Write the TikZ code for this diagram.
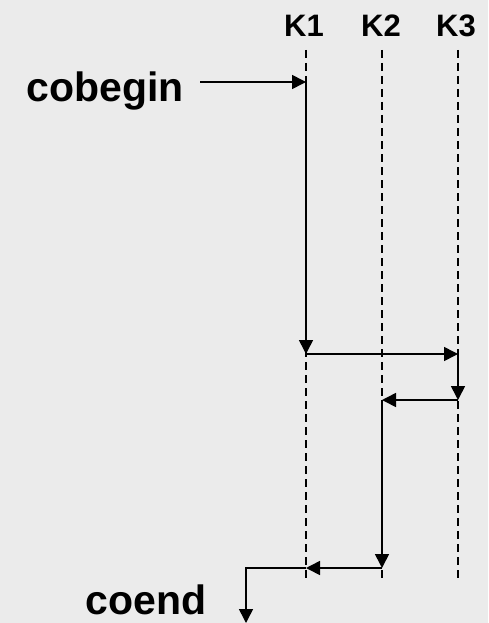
\documentclass[tikz,border=0pt]{standalone}
\usepackage{fontspec}
\setmainfont{Liberation Sans}
\usetikzlibrary{arrows.meta}
\begin{document}
\begin{tikzpicture}[x=1pt,y=-1pt,
  lifeline/.style={line width=1.2pt,dash pattern=on 8pt off 5pt},
  flow/.style={line width=1.6pt,-{Triangle[length=14pt,width=14pt]}},
  head/.style={font=\bfseries\fontsize{31}{31}\selectfont,inner sep=0pt,anchor=base},
  big/.style={font=\bfseries\fontsize{41}{41}\selectfont,inner sep=0pt,anchor=base}]
  \fill[fill={rgb,255:red,235;green,235;blue,235}] (0,0) rectangle (488,623);
  \useasboundingbox (0,0) rectangle (488,623);
  % process headers
  \node[head] (k1) at (304,37) {K1};
  \node[head] (k2) at (381,37) {K2};
  \node[head] (k3) at (456,37) {K3};
  % lifelines
  \coordinate (t1) at (306,50); \coordinate (b1) at (306,578);
  \coordinate (t2) at (382,50); \coordinate (b2) at (382,578);
  \coordinate (t3) at (458,50); \coordinate (b3) at (458,578);
  \draw[lifeline] (t1) -- (b1);
  \draw[lifeline] (t2) -- (b2);
  \draw[lifeline] (t3) -- (b3);
  % entry and exit labels
  \node[big] (cb) at (105,102) {cobegin};
  \node[big] (ce) at (146,614) {coend};
  % control flow points
  \coordinate (s0) at (200,82);
  \coordinate (a1) at (306,82);
  \coordinate (a2) at (306,354);
  \coordinate (a3) at (458,354);
  \coordinate (a4) at (458,400);
  \coordinate (a5) at (382,400);
  \coordinate (a6) at (382,568);
  \coordinate (a7) at (306,568);
  \coordinate (c1) at (246,568);
  \coordinate (c2) at (246,623);
  \draw[flow] (s0) -- (a1);
  \draw[flow] (a1) -- (a2);
  \draw[flow] (a2) -- (a3);
  \draw[flow] (a3) -- (a4);
  \draw[flow] (a4) -- (a5);
  \draw[flow] (a5) -- (a6);
  \draw[flow] (a6) -- (a7);
  \draw[flow] (a7) -- (c1) -- (c2);
\end{tikzpicture}
\end{document}
